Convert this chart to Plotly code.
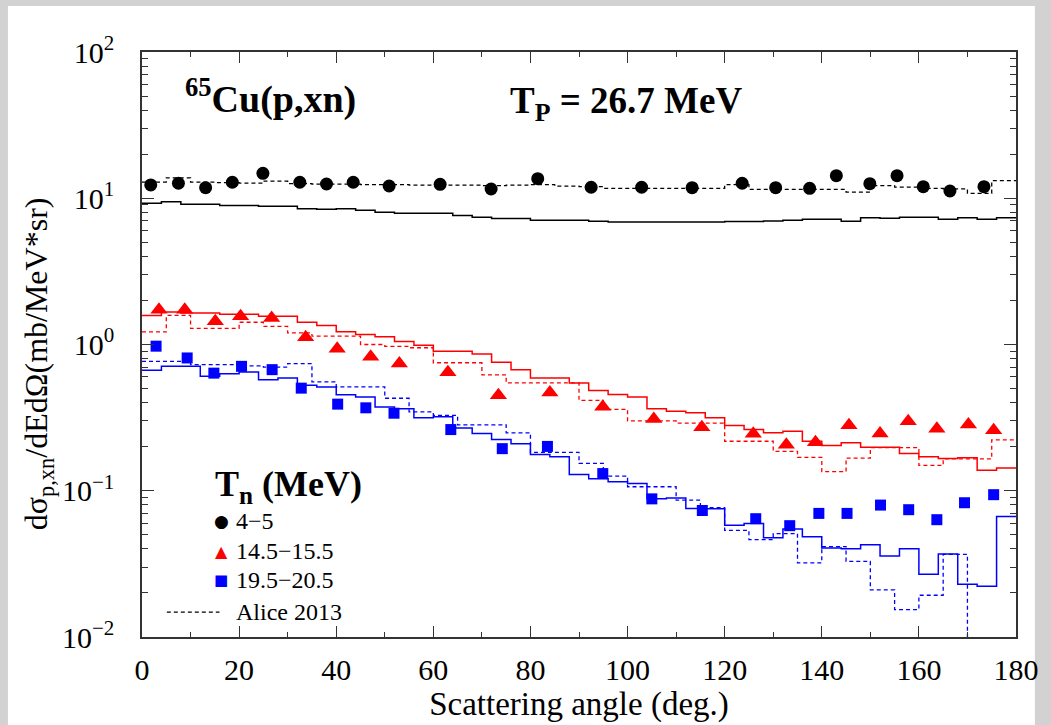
import plotly.graph_objects as go

# ---------------- data ----------------
# measured points (angle in deg, cross section in mb/MeV/sr)
ang_4_5 = [1.8, 7.5, 13.1, 18.6, 24.9, 32.5, 38.0, 43.5, 50.9, 61.4, 71.9, 81.5,
           92.5, 102.9, 113.3, 123.6, 130.5, 137.5, 143.0, 149.9, 155.5, 160.9, 166.4, 173.4]
val_4_5 = [12.33, 12.66, 11.81, 12.86, 14.81, 12.86, 12.52, 12.86, 12.13, 12.46, 11.57, 13.61,
           11.89, 11.89, 11.81, 12.66, 11.81, 11.70, 14.27, 12.58, 14.27, 12.00, 11.21, 12.00]

ang_14_15 = [3.5, 8.8, 15.1, 20.3, 26.7, 33.7, 40.2, 47.1, 53.0, 63.0, 73.4, 84.0,
             94.9, 105.4, 115.3, 125.9, 132.7, 138.7, 145.6, 152.0, 157.8, 163.7, 170.2, 175.4]
val_14_15 = [1.73, 1.73, 1.44, 1.56, 1.52, 1.12, 0.936, 0.826, 0.74, 0.645, 0.45, 0.469,
             0.375, 0.31, 0.272, 0.245, 0.206, 0.215, 0.28, 0.246, 0.299, 0.265, 0.284, 0.259]

ang_19_20 = [2.9, 9.3, 14.8, 20.5, 26.8, 32.8, 40.3, 46.1, 51.9, 63.6, 74.2, 83.5,
             94.9, 105.0, 115.4, 126.4, 133.4, 139.4, 145.2, 152.1, 157.9, 163.7, 169.4, 175.4]
val_19_20 = [0.974, 0.809, 0.637, 0.709, 0.673, 0.503, 0.391, 0.369, 0.339, 0.262, 0.194, 0.201,
             0.131, 0.088, 0.0733, 0.0644, 0.0577, 0.070, 0.070, 0.0798, 0.0742, 0.0634, 0.0828, 0.094]

# model histograms, 4-degree bins (solid)
bin_w_model = 4
model_4_5 = [9.25, 9.48, 9.10, 9.10, 8.91, 8.91, 8.82, 8.82, 8.49, 8.41, 8.49, 8.28,
             8.03, 7.90, 7.90, 7.90, 7.61, 7.42, 7.26, 7.26, 7.08, 7.08, 7.08, 6.97,
             6.89, 6.89, 6.89, 6.89, 6.89, 6.89, 6.93, 6.93, 7.00, 7.08, 7.19, 7.19,
             6.97, 7.37, 7.30, 7.42, 7.42, 7.19, 7.37, 7.19, 7.37]
model_14_15 = [1.58, 1.67, 1.64, 1.64, 1.61, 1.61, 1.56, 1.56, 1.42, 1.35, 1.22, 1.17,
               1.13, 1.05, 0.99, 0.90, 0.90, 0.86, 0.755, 0.673, 0.59, 0.59, 0.546, 0.484,
               0.456, 0.438, 0.363, 0.349, 0.341, 0.315, 0.279, 0.262, 0.249, 0.255, 0.218, 0.204,
               0.213, 0.198, 0.198, 0.180, 0.171, 0.166, 0.168, 0.138, 0.143]
model_19_20 = [0.666, 0.709, 0.709, 0.606, 0.632, 0.649, 0.575, 0.590, 0.526, 0.513, 0.454, 0.438,
               0.374, 0.364, 0.315, 0.320, 0.269, 0.246, 0.224, 0.210, 0.177, 0.171, 0.129, 0.121,
               0.115, 0.112, 0.0882, 0.0891, 0.0757, 0.0754, 0.0582, 0.0598, 0.0478, 0.0547, 0.0485, 0.0406,
               0.0402, 0.0428, 0.0358, 0.0402, 0.0269, 0.0369, 0.0229, 0.0222, 0.0668]

# Alice 2013 histograms, 5-degree bins (dashed)
bin_w_alice = 5
alice_4_5 = [12.9, 13.8, 12.9, 12.8, 12.7, 13.1, 12.6, 12.5, 12.5, 12.4, 12.4, 12.3,
             12.3, 12.3, 12.2, 12.3, 12.4, 12.1, 12.0, 11.7, 11.7, 11.7, 11.7, 11.7,
             12.4, 11.5, 11.5, 11.5, 11.5, 11.0, 12.2, 11.9, 11.7, 11.6, 10.8, 13.2]
alice_14_15 = [1.22, 1.58, 1.29, 1.29, 1.42, 1.33, 1.20, 1.14, 1.14, 1.00, 0.97, 0.95,
               0.75, 0.75, 0.62, 0.546, 0.546, 0.546, 0.415, 0.36, 0.30, 0.30, 0.29, 0.29,
               0.218, 0.218, 0.186, 0.169, 0.135, 0.167, 0.197, 0.197, 0.149, 0.165, 0.165, 0.223]
alice_19_20 = [0.767, 0.767, 0.728, 0.728, 0.715, 0.70, 0.74, 0.555, 0.513, 0.513, 0.429, 0.346,
               0.328, 0.282, 0.282, 0.249, 0.183, 0.183, 0.154, 0.126, 0.1065, 0.1065, 0.0863, 0.0766,
               0.0536, 0.0463, 0.0509, 0.0321, 0.0415, 0.0329, 0.0210, 0.0154, 0.0193, 0.0367, 0.0001, 0.0001]

x_ticks = [0, 20, 40, 60, 80, 100, 120, 140, 160, 180]
x_minor = [10, 30, 50, 70, 90, 110, 130, 150, 170]
y_ticks = [0.01, 0.1, 1, 10, 100]
y_ticktext = ["10<sup>\u22122</sup>", "10<sup>\u22121</sup>", "10<sup>0</sup>",
              "10<sup>1</sup>", "10<sup>2</sup>"]
y_minor = [m * d for d in (0.01, 0.1, 1, 10) for m in range(2, 10)]

legend_labels = ["4\u22125", "14.5\u221215.5", "19.5\u221220.5", "Alice 2013"]

# ---------------- figure ----------------
BLACK, RED, BLUE = "#000000", "#ff0000", "#0000ff"
SERIF = "Liberation Serif, Times New Roman, serif"


def hist_xy(vals, width):
    xs = [i * width for i in range(len(vals) + 1)]
    ys = list(vals) + [vals[-1]]
    return xs, ys


fig = go.Figure()

for vals, col in [(model_4_5, BLACK), (model_14_15, RED), (model_19_20, BLUE)]:
    xs, ys = hist_xy(vals, bin_w_model)
    fig.add_trace(go.Scatter(x=xs, y=ys, mode="lines", line=dict(color=col, width=1.5, shape="hv"),
                             showlegend=False, hoverinfo="skip"))

for vals, col in [(alice_4_5, BLACK), (alice_14_15, RED), (alice_19_20, BLUE)]:
    xs, ys = hist_xy(vals, bin_w_alice)
    fig.add_trace(go.Scatter(x=xs, y=ys, mode="lines",
                             line=dict(color=col, width=1.3, shape="hv", dash="4px,3px"),
                             showlegend=False, hoverinfo="skip"))

fig.add_trace(go.Scatter(x=ang_4_5, y=val_4_5, mode="markers", name=legend_labels[0],
                         marker=dict(symbol="circle", size=13, color=BLACK), showlegend=False))
fig.add_trace(go.Scatter(x=ang_14_15, y=val_14_15, mode="markers", name=legend_labels[1],
                         marker=dict(symbol="triangle-up", size=15, color=RED), showlegend=False))
fig.add_trace(go.Scatter(x=ang_19_20, y=val_19_20, mode="markers", name=legend_labels[2],
                         marker=dict(symbol="square", size=11, color=BLUE), showlegend=False))

L, R, T, B = 142, 29, 52, 87
W, H = 1051, 725
PW, PH = W - L - R, H - T - B


def px(xpix):
    return (xpix - L) / PW


def py(ypix):
    return (H - B - ypix) / PH


axis_common = dict(showline=True, linecolor="#333333", linewidth=1.5, mirror="ticks",
                   ticks="inside", tickcolor="#333333", tickwidth=1.3,
                   showgrid=False, zeroline=False)

fig.update_xaxes(range=[0, 180], tickvals=x_ticks, ticklen=11,
                 tickfont=dict(family=SERIF, size=30, color="black"),
                 ticklabelstandoff=5,
                 minor=dict(tickvals=x_minor, ticklen=5, ticks="inside",
                            tickcolor="#333333", tickwidth=1.3, showgrid=False),
                 title=dict(text="Scattering angle (deg.)",
                            font=dict(family=SERIF, size=33, color="black"), standoff=4),
                 **axis_common)
fig.update_yaxes(type="log", range=[-2, 2], tickvals=y_ticks, ticktext=y_ticktext, ticklen=12,
                 tickfont=dict(family=SERIF, size=30, color="black"),
                 ticklabelstandoff=20,
                 minor=dict(tickvals=y_minor, ticklen=6, ticks="inside",
                            tickcolor="#333333", tickwidth=1.3, showgrid=False),
                 **axis_common)

annotations = [
    dict(text="d\u03c3<sub>p,xn</sub>/dEd\u03a9(mb/MeV*sr)", textangle=-90,
         x=px(38), y=py(364), xref="paper", yref="paper", showarrow=False,
         xanchor="center", yanchor="middle", font=dict(family=SERIF, size=32, color="black")),
    dict(text="<b><sup>65</sup>Cu(p,xn)</b>", x=px(183), y=py(97), xref="paper", yref="paper",
         showarrow=False, xanchor="left", yanchor="middle",
         font=dict(family=SERIF, size=38, color="black")),
    dict(text="<b>T<sub>P</sub> = 26.7 MeV</b>", x=px(511), y=py(104), xref="paper", yref="paper",
         showarrow=False, xanchor="left", yanchor="middle",
         font=dict(family=SERIF, size=37, color="black")),
    dict(text="<b>T<sub>n</sub> (MeV)</b>", x=px(213), y=py(487), xref="paper", yref="paper",
         showarrow=False, xanchor="left", yanchor="middle",
         font=dict(family=SERIF, size=36, color="black")),
]
leg_y = [522, 552, 581, 613]
leg_glyphs = [("\u25cf", BLACK, 17), ("\u25b2", RED, 16), ("\u25a0", BLUE, 15)]
for (g, col, s), yy in zip(leg_glyphs, leg_y[:3]):
    annotations.append(dict(text=g, x=px(222), y=py(yy), xref="paper", yref="paper",
                            showarrow=False, xanchor="center", yanchor="middle",
                            font=dict(family="DejaVu Sans", size=s, color=col)))
for lab, yy in zip(legend_labels, leg_y):
    annotations.append(dict(text=lab, x=px(235), y=py(yy), xref="paper", yref="paper",
                            showarrow=False, xanchor="left", yanchor="middle",
                            font=dict(family=SERIF, size=24, color="black")))

shapes = [
    dict(type="rect", xref="paper", yref="paper", x0=px(7), x1=px(1041), y0=py(6), y1=py(730),
         fillcolor="white", line=dict(width=0), layer="below"),
    dict(type="line", xref="paper", yref="paper", x0=px(167), x1=px(220), y0=py(613), y1=py(613),
         line=dict(color="black", width=1.2, dash="4px,3px")),
]

fig.update_layout(width=W, height=H, margin=dict(l=L, r=R, t=T, b=B),
                  paper_bgcolor="#d2d2d2", plot_bgcolor="white",
                  annotations=annotations, shapes=shapes, showlegend=False)

fig.write_html("out.html")
